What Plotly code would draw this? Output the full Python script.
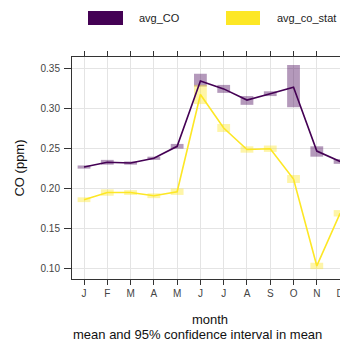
import plotly.graph_objects as go

months = ["J", "F", "M", "A", "M", "J", "J", "A", "S", "O", "N", "D"]
month_num = list(range(1, 13))

avg_co = [0.227, 0.233, 0.232, 0.238, 0.253, 0.335, 0.325, 0.311, 0.319, 0.327, 0.247, 0.234]
avg_co_lo = [0.225, 0.230, 0.230, 0.236, 0.250, 0.328, 0.320, 0.305, 0.316, 0.302, 0.240, 0.231]
avg_co_hi = [0.229, 0.236, 0.234, 0.240, 0.256, 0.344, 0.330, 0.316, 0.322, 0.355, 0.253, 0.237]

avg_co_stat = [0.186, 0.195, 0.195, 0.191, 0.196, 0.318, 0.276, 0.249, 0.250, 0.212, 0.103, 0.169]
stat_lo = [0.183, 0.191, 0.192, 0.188, 0.192, 0.306, 0.271, 0.245, 0.246, 0.207, 0.099, 0.165]
stat_hi = [0.189, 0.199, 0.198, 0.194, 0.200, 0.330, 0.281, 0.253, 0.254, 0.217, 0.107, 0.173]

PURPLE = "#440154"
YELLOW = "#FDE725"

fig = go.Figure()

def add_series(y, lo, hi, color, name):
    fig.add_trace(go.Bar(
        x=month_num, base=lo, y=[h - l for h, l in zip(hi, lo)],
        width=0.55, marker=dict(color=color, opacity=0.4, line=dict(width=0)),
        name=name, showlegend=False, hoverinfo="skip"))
    fig.add_trace(go.Scatter(
        x=month_num, y=y, mode="lines", line=dict(color=color, width=1.6),
        name=name, showlegend=False))

add_series(avg_co, avg_co_lo, avg_co_hi, PURPLE, "avg_CO")
add_series(avg_co_stat, stat_lo, stat_hi, YELLOW, "avg_co_stat")

PW, PH = 276.0, 222.0  # plot area size in px
def px(x):
    return (x - 72) / PW
def py(y):
    return (279 - y) / PH

# legend keys
fig.add_shape(type="rect", xref="paper", yref="paper", x0=px(88), x1=px(123),
              y0=py(25), y1=py(11), fillcolor=PURPLE, line=dict(width=0))
fig.add_shape(type="rect", xref="paper", yref="paper", x0=px(226), x1=px(260),
              y0=py(25), y1=py(11), fillcolor=YELLOW, line=dict(width=0))
fig.add_annotation(text="avg_CO", xref="paper", yref="paper", x=px(137), y=py(18),
                   xanchor="left", yanchor="middle", showarrow=False,
                   font=dict(size=11, color="#222222"))
fig.add_annotation(text="avg_co_stat", xref="paper", yref="paper", x=px(275), y=py(18),
                   xanchor="left", yanchor="middle", showarrow=False,
                   font=dict(size=11, color="#222222"))
fig.add_annotation(text="mean and 95% confidence interval in mean", xref="paper", yref="paper",
                   x=px(197), y=py(334), xanchor="center", yanchor="middle",
                   showarrow=False, font=dict(size=13, color="#111111"))

# page body has an 8px margin, so the figure is 8px smaller and starts at (8, 8)
fig.update_layout(
    width=340, height=339,
    margin=dict(l=64, r=0, t=49, b=68, autoexpand=False),
    paper_bgcolor="white", plot_bgcolor="white",
    font=dict(family="Liberation Sans, Arial, sans-serif"),
    barmode="overlay",
    showlegend=False,
)
fig.update_xaxes(
    range=[0.484, 12.34], tickmode="array", tickvals=month_num, ticktext=months,
    ticks="outside", ticklen=5, tickcolor="#333333", tickwidth=1,
    showline=True, linecolor="#333333", linewidth=1, mirror="ticks",
    showgrid=True, gridcolor="#e4e4e4", gridwidth=1, zeroline=False,
    tickfont=dict(size=10, color="#444444"), ticklabelstandoff=0,
    title=dict(text="month", font=dict(size=13, color="#111111"), standoff=16),
    automargin=False,
)
fig.update_yaxes(
    range=[0.0866, 0.365], tickmode="array", tickvals=[0.10, 0.15, 0.20, 0.25, 0.30, 0.35],
    ticktext=["0.10", "0.15", "0.20", "0.25", "0.30", "0.35"],
    ticks="outside", ticklen=7, tickcolor="#333333", tickwidth=1,
    showline=True, linecolor="#333333", linewidth=1, mirror=True,
    showgrid=True, gridcolor="#e4e4e4", gridwidth=1, zeroline=False,
    tickfont=dict(size=10, color="#444444"), ticklabelstandoff=2,
    title=dict(text="CO (ppm)", font=dict(size=13, color="#111111"), standoff=12),
    automargin=False,
)

fig.write_html("out.html")
